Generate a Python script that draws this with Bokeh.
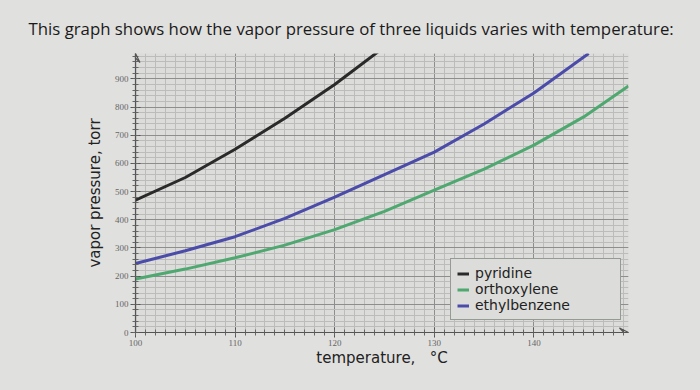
import math
from bokeh.plotting import figure
from bokeh.models import (FixedTicker, Legend, LegendItem, Arrow, VeeHead, Range1d)
from bokeh.embed import file_html
from bokeh.resources import INLINE

# ---- data ----
pyridine_t = [100, 105, 110, 115, 120, 124.5]
pyridine_p = [470, 550, 650, 760, 880, 1000]

ethylbenzene_t = [100, 105, 110, 115, 120, 125, 130, 135, 140, 145.5]
ethylbenzene_p = [245, 290, 340, 405, 480, 560, 640, 740, 850, 990]

orthoxylene_t = [100, 105, 110, 115, 120, 125, 130, 135, 140, 145, 149.5]
orthoxylene_p = [190, 225, 265, 310, 365, 430, 505, 580, 665, 765, 875]

x_major = [100, 110, 120, 130, 140]
x_minor = list(range(100, 150))
y_major = [0, 100, 200, 300, 400, 500, 600, 700, 800, 900]
y_minor = list(range(0, 1000, 20))

title_text = "This graph shows how the vapor pressure of three liquids varies with temperature:"
x_label = "temperature,\u00a0\u00a0 \u00b0C"
y_label = "vapor pressure, torr"

BG = "#e0e0de"
p = figure(width=684, height=374, output_backend="svg", toolbar_location=None,
           x_range=Range1d(100, 149.5), y_range=Range1d(0, 990),
           min_border_left=135, min_border_right=56, min_border_top=52, min_border_bottom=42,
           background_fill_color="#dcdcda", border_fill_color=BG, outline_line_color=None)

p.title.text = title_text
p.title.text_font = "Open Sans"
p.title.text_font_size = "16.8px"
p.title.text_font_style = "normal"
p.title.text_color = "#1a1a1a"
p.title.align = "left"
p.title.offset = -107
p.title.standoff = 28

for ax, maj, mn in ((p.xaxis[0], x_major, x_minor), (p.yaxis[0], y_major, y_minor)):
    ax.ticker = FixedTicker(ticks=maj, minor_ticks=mn)
    ax.axis_line_color = "#555555"
    ax.axis_line_width = 1.2
    ax.major_tick_line_color = "#555555"
    ax.minor_tick_line_color = "#666666"
    ax.major_tick_out = 5
    ax.major_tick_in = 5
    ax.minor_tick_out = 3
    ax.minor_tick_in = 3
    ax.major_label_text_font = "Liberation Serif"
    ax.major_label_text_font_size = "9px"
    ax.major_label_text_color = "#666666"
    ax.major_label_standoff = 2
    ax.axis_label_text_font = "DejaVu Sans"
    ax.axis_label_text_font_size = "15px"
    ax.axis_label_text_font_style = "normal"
    ax.axis_label_text_color = "#222222"

p.xaxis.axis_label = x_label
p.yaxis.axis_label = y_label
p.xaxis.axis_label_standoff = 0
p.yaxis.axis_label_standoff = 8

p.xgrid.ticker = FixedTicker(ticks=x_major, minor_ticks=x_minor)
p.ygrid.ticker = FixedTicker(ticks=y_major, minor_ticks=y_minor)
for g in (p.xgrid[0], p.ygrid[0]):
    g.grid_line_color = "#8e8e8e"
    g.grid_line_width = 1
    g.minor_grid_line_color = "#bcbcba"
    g.minor_grid_line_width = 1

r_pyr = p.line(pyridine_t, pyridine_p, line_color="#2a2a2a", line_width=3)
r_oxy = p.line(orthoxylene_t, orthoxylene_p, line_color="#4fa870", line_width=3)
r_eth = p.line(ethylbenzene_t, ethylbenzene_p, line_color="#4b4caa", line_width=3)

legend = Legend(items=[LegendItem(label="pyridine", renderers=[r_pyr]),
                       LegendItem(label="orthoxylene", renderers=[r_oxy]),
                       LegendItem(label="ethylbenzene", renderers=[r_eth])],
                location=(315, 12), label_text_font="DejaVu Sans", label_text_font_size="14px",
                label_text_color="#222222", glyph_width=12, glyph_height=15,
                label_height=15, label_width=139, spacing=0, padding=6, margin=0,
                label_standoff=6,
                border_line_color="#4a5a4a", border_line_width=1.5,
                background_fill_color="#dcdcda", background_fill_alpha=1)
p.add_layout(legend, "center")

p.add_layout(Arrow(end=VeeHead(size=9, line_color="#555555", line_width=1.2, fill_color=None),
                   x_start=100, y_start=0, x_end=149.5, y_end=0, line_color="#555555", line_width=1.2))
p.add_layout(Arrow(end=VeeHead(size=9, line_color="#555555", line_width=1.2, fill_color=None),
                   x_start=100, y_start=0, x_end=100, y_end=990, line_color="#555555", line_width=1.2))

html = file_html(p, INLINE)
html = html.replace("<head>", "<head><style>body{background:%s;}</style>" % BG, 1)
open("out.html", "w").write(html)
